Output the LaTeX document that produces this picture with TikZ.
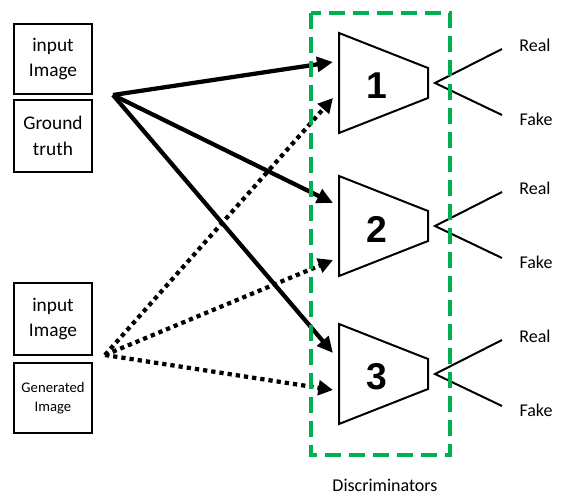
\documentclass[tikz,border=0pt]{standalone}
\usepackage{fontspec}
\setmainfont{Carlito}
\newfontfamily\numfont{Liberation Sans}
\usetikzlibrary{arrows.meta}
\definecolor{framegreen}{RGB}{0,176,80}

\begin{document}
\begin{tikzpicture}[x=0.75pt,y=-0.75pt,font=\fontsize{14.5}{19}\selectfont,
  inbox/.style={draw,line width=1.6pt,minimum width=58pt,minimum height=52pt,align=center,inner sep=1pt},
  realarrow/.style={line width=3.2pt,-{Triangle[length=12pt,width=11pt]}},
  fakearrow/.style={line width=3.2pt,dash pattern=on 3.2pt off 3pt,-{Triangle[length=11pt,width=11pt]}},
  disc/.style={line width=1.5pt,line join=miter},
  outlabel/.style={font=\fontsize{13.5}{16}\selectfont}]
\useasboundingbox (0,0) rectangle (561,495);
\node[inbox] (img1) at (53,59) {input\\Image};
\node[inbox,minimum height=54pt] (gt) at (53,136) {Ground\\truth};
\node[inbox,minimum height=54pt] (img2) at (53,319) {input\\Image};
\node[inbox,font=\fontsize{11}{14}\selectfont] (gen) at (53,398) {Generated\\Image};
\coordinate (real) at (113,95);
\coordinate (fake) at (105,355);
\foreach \i/\c/\a/\b in {1/83/-21/15, 2/226/-23/34, 3/374/-21/16}{
  \draw[disc] (339,\c-50) -- (428,\c-15) -- (428,\c+15) -- (339,\c+50) -- cycle;
  \node[font=\numfont\bfseries\fontsize{28}{28}\selectfont] (d\i) at (377,\c+3) {\i};
  \coordinate (d\i-a) at (333,\c+\a);
  \coordinate (d\i-b) at (333,\c+\b);
  \coordinate (o\i) at (435,\c);
  \coordinate (o\i-r) at (502,\c-34);
  \coordinate (o\i-f) at (502,\c+32);
  \draw[disc] (o\i-r) -- (o\i) -- (o\i-f);
  \node[outlabel] (r\i) at (535,\c-38) {Real};
  \node[outlabel] (f\i) at (536,\c+36) {Fake};
  \draw[realarrow] (real) -- (d\i-a);
  \draw[fakearrow] (fake) -- (d\i-b);
}
\draw[framegreen,line width=3pt,dash pattern=on 12pt off 6pt] (311,13) rectangle (450,455);
\node[outlabel] (lbl) at (385,485) {Discriminators};
\end{tikzpicture}
\end{document}
